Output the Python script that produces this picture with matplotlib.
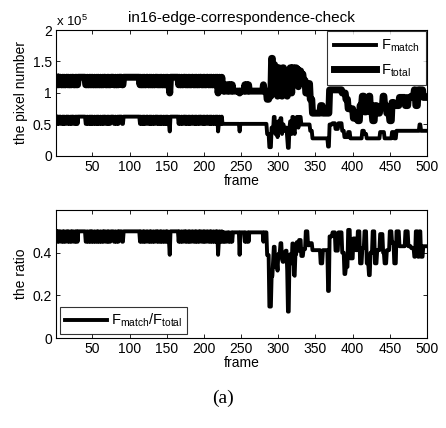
import numpy as np
import matplotlib
matplotlib.use("Agg")
import matplotlib.pyplot as plt
from matplotlib import font_manager as fm

# avoid accidental selection of condensed variants
fm.fontManager.ttflist = [f for f in fm.fontManager.ttflist
                          if 'narrow' not in f.name.lower() and 'narrow' not in f.fname.lower()
                          and 'condensed' not in f.fname.lower()]
try:
    fm._findfont_cached.cache_clear()
except Exception:
    pass

plt.rcParams['font.family'] = ['Liberation Sans', 'DejaVu Sans']
plt.rcParams['mathtext.default'] = 'regular'

# ---- data (values in units of 1e5 pixels) ----
# frames 1..280 : per-frame state codes
early_states = ("A" + "BBABAABBABABBAABABBABAABBABABA" + "AAAAAAAAA" + "BBABBAB" + "A"
                + "BABBABBABABB" + "A" + "BBABAABBABABB" + "AAAA" + "BBABBAB" + "AAAA"
                + "BBA" + "A" * 21 + "BABBABABBAABBABABBABBAABABBABABBABBABAB" + "BD"
                + "A" * 11 + "BABBABBAABABBABABBAABBABABBABA" + "A"
                + "BBABABBAABBABABBABBABA" + "D" + "BABBAB" + "CBCBBCCBCBBCBCC"
                + "C" * 7 + "D" + "C" * 6 + "BCBBCBC" + "C" * 18 + "B")
state_codes = ['A', 'B', 'C', 'D']
state_match = [0.625, 0.51, 0.51, 0.39]
state_total = [1.25, 1.13, 1.03, 1.00]

# frames 281..500 : run lengths with F_match / F_total levels
late_len = [4, 3, 3, 2, 1, 2, 1, 2, 1, 2, 1, 2, 1, 2, 2, 2, 1, 2, 1, 2, 1, 2, 1, 1, 2, 2, 1, 3,
            3, 3, 3, 3, 3, 11, 3, 7, 2, 4, 4, 4, 5, 3, 2, 3, 3, 4, 3, 3, 3, 3, 3, 3, 3, 2, 3, 3,
            3, 4, 4, 2, 3, 4, 3, 3, 3, 4, 8, 4, 4, 4, 2, 3, 2, 2, 3, 6]
late_match = [0.51, 0.35, 0.14, 0.45, 0.40, 0.62, 0.35, 0.50, 0.30, 0.55, 0.40, 0.60, 0.35,
              0.50, 0.40, 0.45, 0.30, 0.13, 0.45, 0.55, 0.35, 0.62, 0.40, 0.35, 0.55, 0.62,
              0.45, 0.62, 0.50, 0.50, 0.50, 0.50, 0.40, 0.28, 0.28, 0.28, 0.15, 0.50, 0.52,
              0.43, 0.52, 0.40, 0.30, 0.30, 0.38, 0.28, 0.28, 0.28, 0.28, 0.28, 0.40, 0.35,
              0.28, 0.28, 0.28, 0.28, 0.28, 0.28, 0.38, 0.38, 0.28, 0.28, 0.28, 0.38, 0.28,
              0.40, 0.40, 0.40, 0.40, 0.40, 0.40, 0.40, 0.40, 0.50, 0.40, 0.40]
late_total = [1.03, 0.90, 0.95, 1.55, 1.10, 1.45, 1.05, 1.40, 0.95, 1.40, 1.00, 1.35, 0.95,
              1.40, 1.00, 1.10, 0.95, 1.05, 1.20, 1.40, 1.00, 1.40, 1.35, 1.20, 1.40, 1.38,
              1.10, 1.35, 1.30, 1.20, 1.00, 1.15, 0.90, 0.68, 0.80, 0.68, 0.68, 1.05, 1.05,
              1.05, 1.05, 1.00, 1.00, 0.90, 0.75, 0.75, 0.60, 0.68, 0.56, 0.80, 0.95, 0.70,
              0.80, 0.95, 0.70, 0.56, 0.80, 0.68, 0.78, 0.95, 0.80, 0.68, 0.56, 0.85, 0.80,
              0.80, 0.93, 0.80, 0.93, 0.95, 1.05, 0.80, 1.05, 1.00, 1.05, 0.93]

# ---- assemble series ----
idx = [state_codes.index(c) for c in early_states]
f_match = np.concatenate([np.array(state_match)[idx], np.repeat(late_match, late_len)])
f_total = np.concatenate([np.array(state_total)[idx], np.repeat(late_total, late_len)])
ratio = f_match / f_total
frames = np.arange(1, len(f_match) + 1)

W, H = 446, 428
fig = plt.figure(figsize=(W / 100, H / 100), dpi=100)

def px_axes(l, t, r, b):
    return fig.add_axes([l / W, 1 - b / H, (r - l) / W, (b - t) / H])

fs = 10

def style(ax):
    ax.tick_params(direction='in', length=3, width=0.6, top=True, right=True,
                   labelsize=fs, pad=3)
    for s in ax.spines.values():
        s.set_linewidth(0.8)
    ax.set_xlim(1, 500)
    ax.set_xticks(np.arange(50, 501, 50))

ax1 = px_axes(56, 30, 427, 156)
ax1.plot(frames, f_match, color='black', lw=2.8, label='F$_{match}$')
ax1.plot(frames, f_total, color='black', lw=5.0, label='F$_{total}$')
style(ax1)
ax1.set_ylim(0, 2)
ax1.set_yticks([0, 0.5, 1, 1.5, 2])
ax1.set_yticklabels(['0', '0.5', '1', '1.5', '2'])
ax1.set_xlabel('frame', fontsize=fs, labelpad=0)
ax1.set_ylabel('the pixel number', fontsize=fs, labelpad=3)
ax1.set_title('in16-edge-correspondence-check', fontsize=11, pad=6)
ax1.text(0.0, 1.01, 'x 10$^5$', transform=ax1.transAxes, fontsize=fs - 0.5,
         ha='left', va='bottom')
leg1 = ax1.legend(loc='upper right', fontsize=fs + 0.5, frameon=True, fancybox=False,
                  edgecolor='black', handlelength=2.9, borderaxespad=0.1,
                  labelspacing=0.55, handletextpad=0.3, borderpad=0.45)
leg1.get_frame().set_linewidth(0.8)

ax2 = px_axes(56, 210, 427, 338)
ax2.plot(frames, ratio, color='black', lw=2.8, label='F$_{match}$/F$_{total}$')
style(ax2)
ax2.set_ylim(0, 0.6)
ax2.set_yticks([0, 0.2, 0.4])
ax2.set_yticklabels(['0', '0.2', '0.4'])
ax2.set_xlabel('frame', fontsize=fs, labelpad=0)
ax2.set_ylabel('the ratio', fontsize=fs, labelpad=3)
leg2 = ax2.legend(loc='lower left', fontsize=fs + 0.5, frameon=True, fancybox=False,
                  edgecolor='black', handlelength=2.9, borderaxespad=0.3,
                  handletextpad=0.3, borderpad=0.3)
leg2.get_frame().set_linewidth(0.8)

fig.text(0.5, 1 - 398 / H, '(a)', ha='center', va='center',
         fontsize=14, family='Liberation Serif')

fig.savefig('out.png', dpi=100)
